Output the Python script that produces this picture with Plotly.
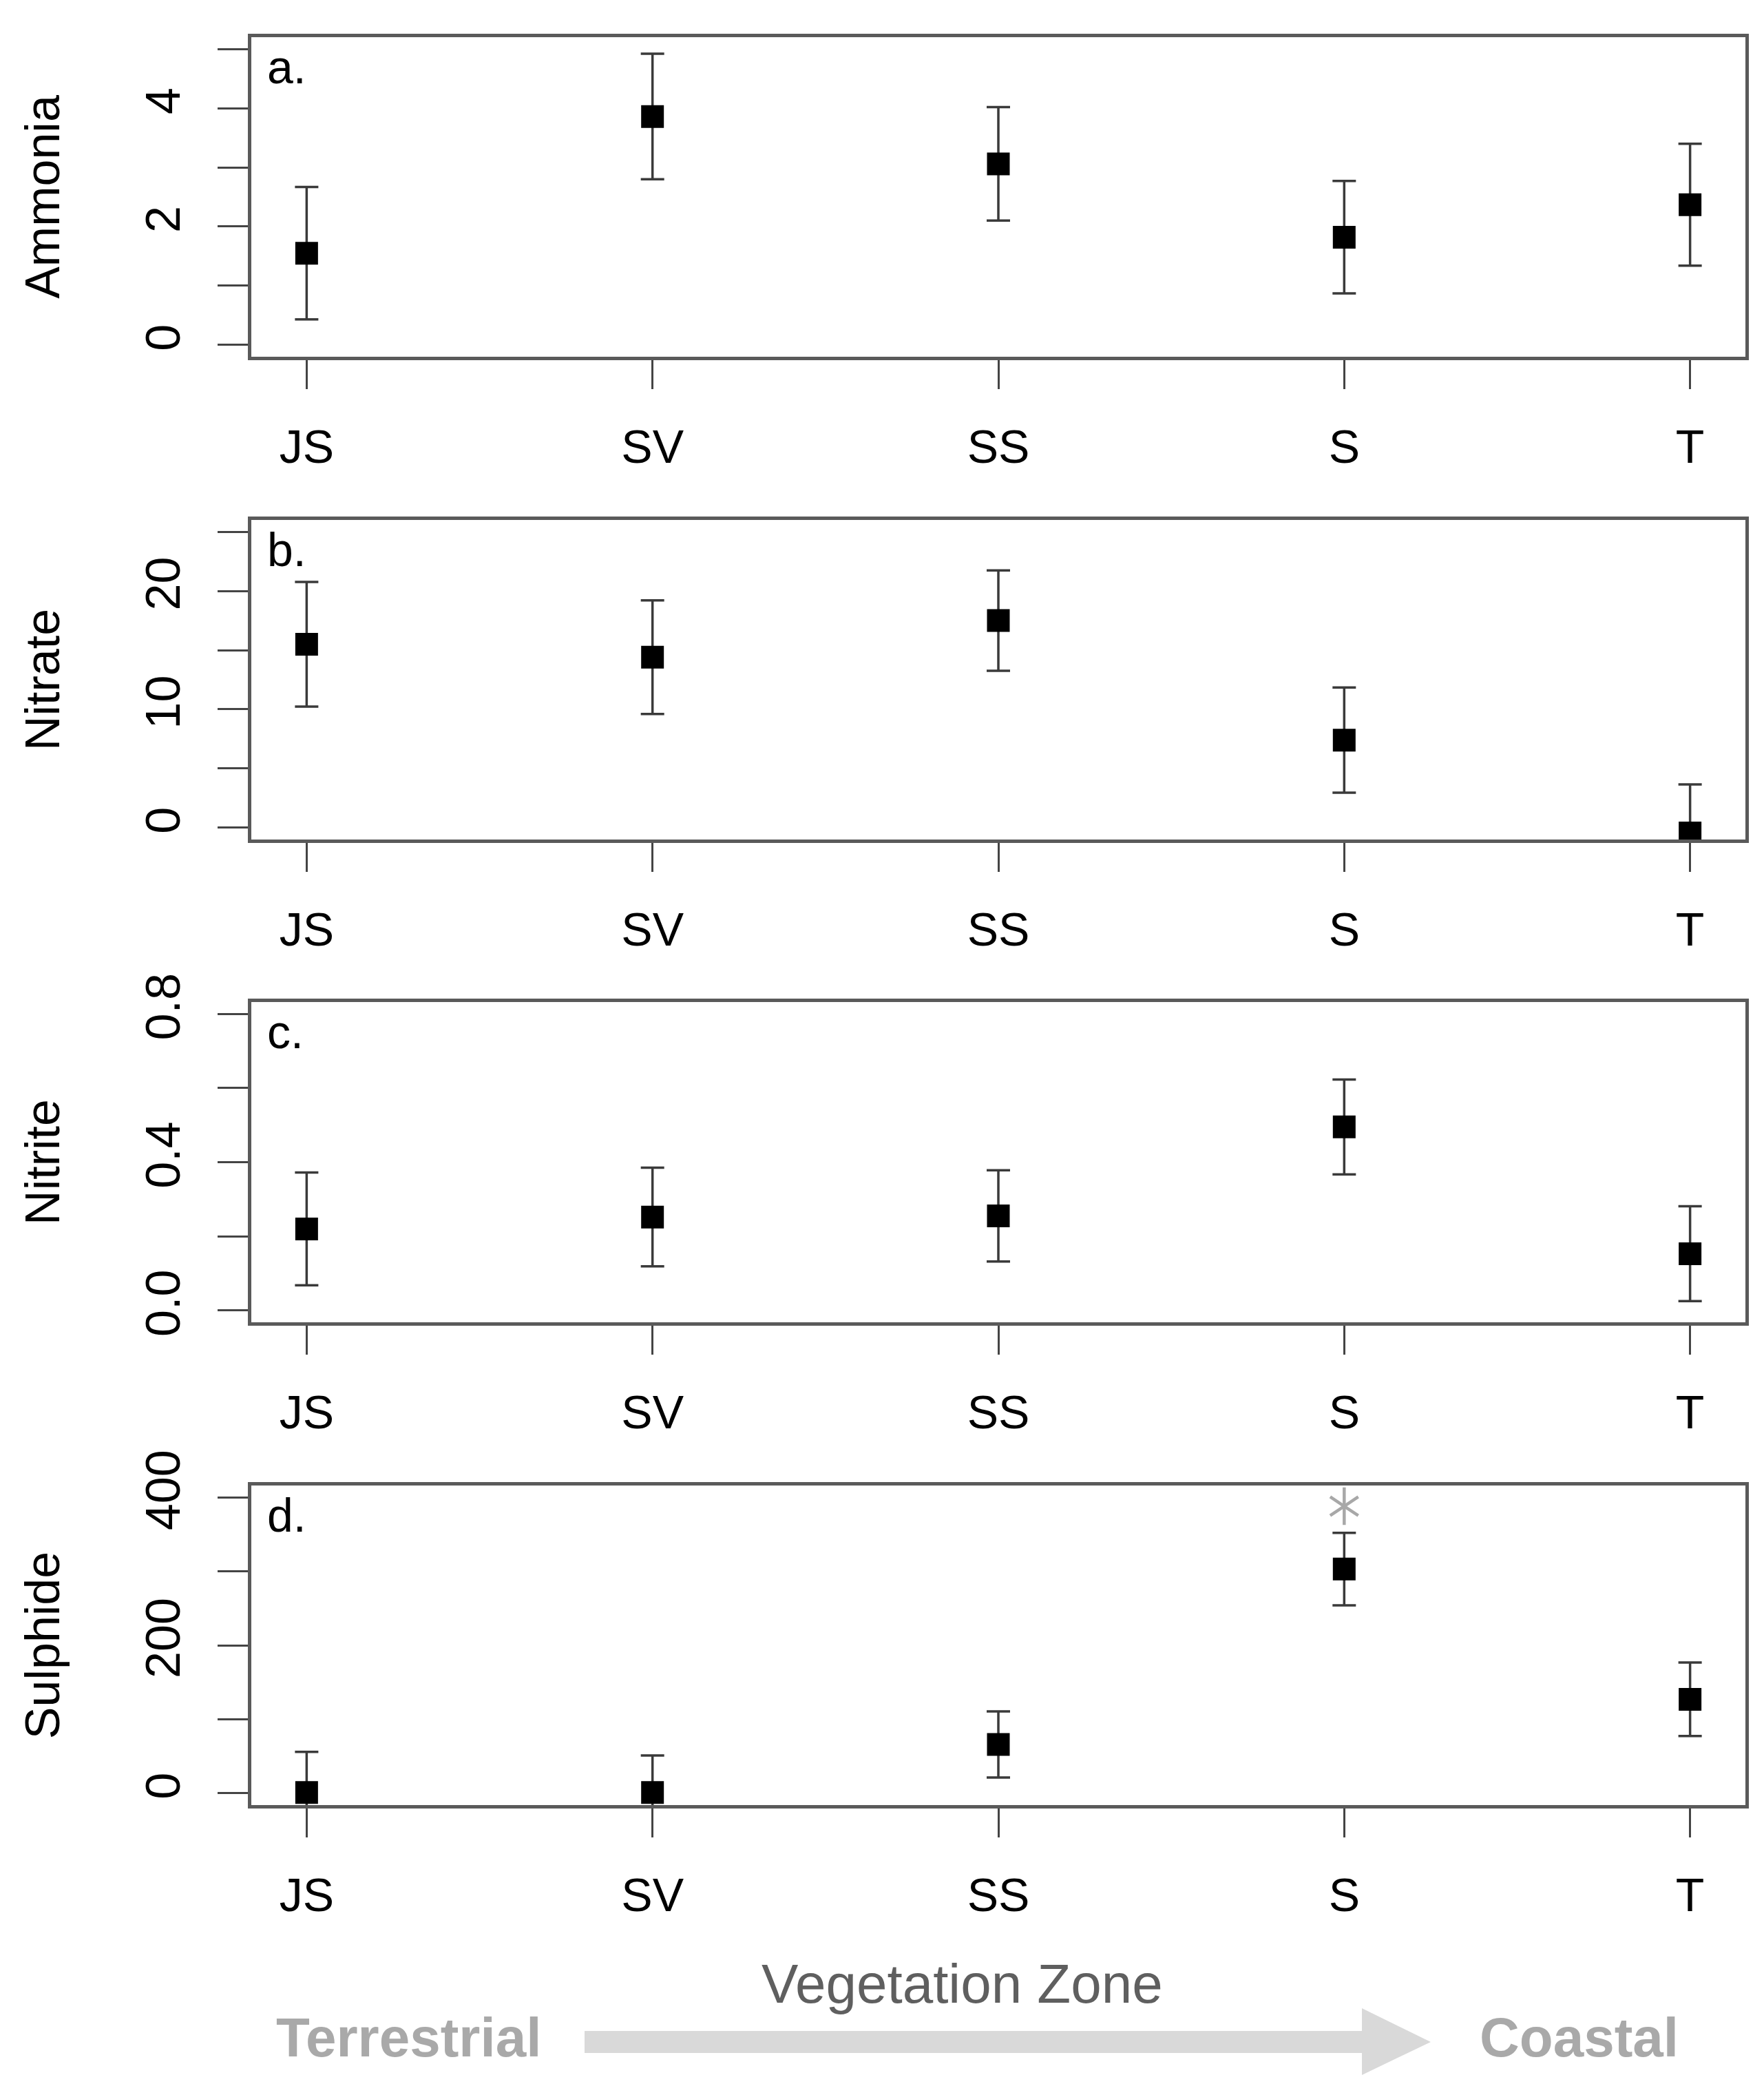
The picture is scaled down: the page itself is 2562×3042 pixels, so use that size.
import plotly.graph_objects as go

# ---------------- data ----------------
zones = ["JS", "SV", "SS", "S", "T"]
zone_pos = [1, 2, 3, 4, 5]

ammonia_mean = [1.55, 3.86, 3.06, 1.82, 2.37]
ammonia_err = [1.12, 1.06, 0.96, 0.95, 1.03]

nitrate_mean = [15.5, 14.4, 17.5, 7.4, -0.45]
nitrate_err = [5.27, 4.8, 4.24, 4.45, 4.1]

nitrite_mean = [0.22, 0.252, 0.255, 0.495, 0.153]
nitrite_err = [0.152, 0.133, 0.123, 0.128, 0.128]

sulphide_mean = [1, 1, 66, 303, 127]
sulphide_err = [55, 50, 44.7, 49, 49.7]

signif_x = [4]
signif_y = [388]

panel_titles = ["Ammonia", "Nitrate", "Nitrite", "Sulphide"]
panel_letters = ["a.", "b.", "c.", "d."]
y_ranges = [[-0.2, 5.2], [-1, 26], [-0.032, 0.832], [-16, 416]]
y_tickvals = [[0, 1, 2, 3, 4, 5], [0, 5, 10, 15, 20, 25],
              [0, 0.2, 0.4, 0.6, 0.8], [0, 100, 200, 300, 400]]
y_ticktext = [["0", "", "2", "", "4", ""], ["0", "", "10", "", "20", ""],
              ["0.0", "", "0.4", "", "0.8"], ["0", "", "200", "", "400"]]

means = [ammonia_mean, nitrate_mean, nitrite_mean, sulphide_mean]
errs = [ammonia_err, nitrate_err, nitrite_err, sulphide_err]

# ---------------- layout geometry ----------------
W, H = 2562, 3042
ML, MR = 357, 35
panel_px = [(46, 510), (747, 1211), (1447, 1912), (2149, 2613)]  # top, bottom

FONT = "Liberation Sans, Arial, Helvetica, sans-serif"
AXC = "#5a5a5a"

fig = go.Figure()

for i in range(4):
    n = i + 1
    xa = "x" if n == 1 else f"x{n}"
    ya = "y" if n == 1 else f"y{n}"
    fig.add_trace(go.Scatter(
        x=zone_pos, y=means[i], xaxis=xa, yaxis=ya, mode="markers",
        marker=dict(symbol="square", size=33, color="black"),
        error_y=dict(type="data", array=errs[i], visible=True,
                     color="#3a3a3a", thickness=3.5, width=17),
        showlegend=False, hoverinfo="x+y",
    ))

# significance asterisk in panel d
for sym in ["y-up-open", "y-down-open"]:
    fig.add_trace(go.Scatter(
        x=signif_x, y=signif_y, xaxis="x4", yaxis="y4", mode="markers",
        marker=dict(symbol=sym, size=34, color="#a8a8a8",
                    line=dict(color="#a8a8a8", width=4.5)),
        showlegend=False, hoverinfo="skip",
    ))

layout = dict(
    template="none",
    width=W, height=H,
    margin=dict(l=ML, r=MR, t=0, b=0, pad=0, autoexpand=False),
    paper_bgcolor="white", plot_bgcolor="white",
    font=dict(family=FONT, size=70, color="black"),
    showlegend=False,
)

annotations = []
for i in range(4):
    n = i + 1
    top, bot = panel_px[i]
    dom = [1 - bot / H, 1 - top / H]
    xk = "xaxis" if n == 1 else f"xaxis{n}"
    yk = "yaxis" if n == 1 else f"yaxis{n}"
    anchor_x = "y" if n == 1 else f"y{n}"
    anchor_y = "x" if n == 1 else f"x{n}"
    layout[xk] = dict(
        domain=[0, 1], anchor=anchor_x, range=[0.84, 5.16],
        tickmode="array", tickvals=zone_pos, ticktext=zones,
        ticks="outside", ticklen=42, tickwidth=3, tickcolor="#444444",
        showline=True, linecolor=AXC, linewidth=5, mirror=True,
        showgrid=False, zeroline=False, automargin=False,
        tickfont=dict(family=FONT, size=68, color="black"),
        ticklabelstandoff=25,
    )
    layout[yk] = dict(
        domain=dom, anchor=anchor_y, range=y_ranges[i],
        tickmode="array", tickvals=y_tickvals[i], ticktext=y_ticktext[i],
        ticks="outside", ticklen=44, tickwidth=3, tickcolor="#444444",
        tickangle=-90,
        showline=True, linecolor=AXC, linewidth=5, mirror=True,
        showgrid=False, zeroline=False, automargin=False,
        tickfont=dict(family=FONT, size=70, color="black"),
        ticklabelstandoff=27,
        title=dict(text=panel_titles[i], standoff=90,
                   font=dict(family=FONT, size=70, color="black")),
    )
    annotations.append(dict(
        xref=f"x{'' if n == 1 else n} domain", yref=f"y{'' if n == 1 else n} domain",
        x=(378 - ML) / (W - ML - MR), y=1 - 3 / (bot - top),
        xanchor="left", yanchor="top", showarrow=False,
        text=panel_letters[i], font=dict(family=FONT, size=68, color="black"),
    ))

# bottom axis title and direction labels
annotations.append(dict(
    xref="paper", yref="paper", x=(1389 - ML) / (W - ML - MR), y=1 - 2872 / H,
    xanchor="center", yanchor="middle", showarrow=False,
    text="Vegetation Zone", font=dict(family=FONT, size=80, color="#5f5f5f"),
))
annotations.append(dict(
    xref="paper", yref="paper", x=(585 - ML) / (W - ML - MR), y=1 - 2950 / H,
    xanchor="center", yanchor="middle", showarrow=False,
    text="<b>Terrestrial</b>", font=dict(family=FONT, size=80, color="#a9a9a9"),
))
annotations.append(dict(
    xref="paper", yref="paper", x=(2285 - ML) / (W - ML - MR), y=1 - 2950 / H,
    xanchor="center", yanchor="middle", showarrow=False,
    text="<b>Coastal</b>", font=dict(family=FONT, size=80, color="#a9a9a9"),
))
layout["annotations"] = annotations


def px_x(p):
    return (p - ML) / (W - ML - MR)


def px_y(p):
    return 1 - p / H


arrow_path = "M {} {} L {} {} L {} {} L {} {} L {} {} L {} {} L {} {} Z".format(
    px_x(841), px_y(2941), px_x(1970), px_y(2941), px_x(1970), px_y(2908),
    px_x(2070), px_y(2957), px_x(1970), px_y(3005), px_x(1970), px_y(2973),
    px_x(841), px_y(2973))
layout["shapes"] = [dict(type="path", xref="paper", yref="paper", path=arrow_path,
                         fillcolor="#d9d9d9", line=dict(width=0), layer="above")]

fig.update_layout(**layout)
fig.write_html("out.html")
